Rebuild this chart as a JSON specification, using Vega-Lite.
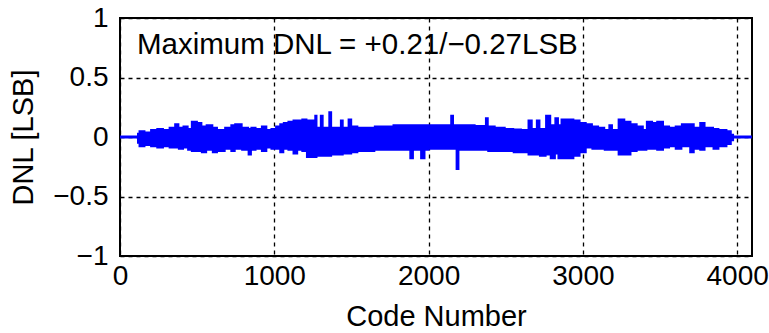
{
  "$schema": "https://vega.github.io/schema/vega-lite/v6.json",
  "autosize": {"type": "none"},
  "width": 632,
  "height": 238,
  "padding": {"left": 120, "top": 18, "right": 17, "bottom": 77},
  "background": "white",
  "title": {"text": "y,", "fontSize": 29, "font": "Liberation Sans", "fontWeight": "bold", "baseline": "bottom", "frame": "group", "offset": -3, "dx": 36, "color": "#000"},
  "config": {
    "view": {"stroke": "#000", "strokeWidth": 2},
    "font": "Liberation Sans",
    "axis": {
      "labelFont": "Liberation Sans", "labelFontSize": 28, "labelColor": "#000",
      "titleFont": "Liberation Sans", "titleFontSize": 29, "titleFontWeight": "normal", "titleColor": "#000",
      "domain": false, "ticks": false,
      "grid": true, "gridColor": "#000", "gridDash": [4, 4], "gridWidth": 1.3, "gridOpacity": 1
    }
  },
  "datasets": {
    "band": [
      {"code": 115, "hi": 0.03, "lo": -0.05},
      {"code": 125, "hi": 0.05, "lo": -0.08},
      {"code": 160, "hi": 0.04, "lo": -0.07},
      {"code": 200, "hi": 0.06, "lo": -0.08},
      {"code": 240, "hi": 0.07, "lo": -0.09},
      {"code": 280, "hi": 0.06, "lo": -0.08},
      {"code": 320, "hi": 0.08, "lo": -0.09},
      {"code": 356, "hi": 0.11, "lo": -0.09},
      {"code": 380, "hi": 0.08, "lo": -0.10},
      {"code": 410, "hi": 0.09, "lo": -0.09},
      {"code": 440, "hi": 0.07, "lo": -0.11},
      {"code": 464, "hi": 0.13, "lo": -0.12},
      {"code": 500, "hi": 0.12, "lo": -0.12},
      {"code": 529, "hi": 0.09, "lo": -0.13},
      {"code": 560, "hi": 0.10, "lo": -0.11},
      {"code": 600, "hi": 0.08, "lo": -0.13},
      {"code": 630, "hi": 0.06, "lo": -0.12},
      {"code": 680, "hi": 0.08, "lo": -0.10},
      {"code": 720, "hi": 0.10, "lo": -0.12},
      {"code": 745, "hi": 0.11, "lo": -0.10},
      {"code": 790, "hi": 0.08, "lo": -0.11},
      {"code": 832, "hi": 0.07, "lo": -0.15},
      {"code": 850, "hi": 0.08, "lo": -0.11},
      {"code": 880, "hi": 0.07, "lo": -0.10},
      {"code": 918, "hi": 0.09, "lo": -0.12},
      {"code": 950, "hi": 0.06, "lo": -0.09},
      {"code": 980, "hi": 0.07, "lo": -0.10},
      {"code": 1010, "hi": 0.09, "lo": -0.10},
      {"code": 1037, "hi": 0.11, "lo": -0.13},
      {"code": 1060, "hi": 0.12, "lo": -0.10},
      {"code": 1090, "hi": 0.13, "lo": -0.11},
      {"code": 1123, "hi": 0.14, "lo": -0.14},
      {"code": 1150, "hi": 0.14, "lo": -0.11},
      {"code": 1180, "hi": 0.15, "lo": -0.12},
      {"code": 1210, "hi": 0.14, "lo": -0.17},
      {"code": 1250, "hi": 0.14, "lo": -0.17},
      {"code": 1264, "hi": 0.18, "lo": -0.17},
      {"code": 1275, "hi": 0.08, "lo": -0.16},
      {"code": 1300, "hi": 0.18, "lo": -0.16},
      {"code": 1315, "hi": 0.08, "lo": -0.16},
      {"code": 1355, "hi": 0.21, "lo": -0.16},
      {"code": 1370, "hi": 0.08, "lo": -0.15},
      {"code": 1430, "hi": 0.14, "lo": -0.15},
      {"code": 1445, "hi": 0.08, "lo": -0.14},
      {"code": 1480, "hi": 0.15, "lo": -0.14},
      {"code": 1500, "hi": 0.09, "lo": -0.13},
      {"code": 1540, "hi": 0.08, "lo": -0.12},
      {"code": 1600, "hi": 0.08, "lo": -0.12},
      {"code": 1650, "hi": 0.09, "lo": -0.11},
      {"code": 1700, "hi": 0.09, "lo": -0.11},
      {"code": 1771, "hi": 0.10, "lo": -0.11},
      {"code": 1840, "hi": 0.10, "lo": -0.11},
      {"code": 1880, "hi": 0.10, "lo": -0.18},
      {"code": 1900, "hi": 0.10, "lo": -0.11},
      {"code": 1950, "hi": 0.10, "lo": -0.18},
      {"code": 1975, "hi": 0.10, "lo": -0.11},
      {"code": 2000, "hi": 0.10, "lo": -0.10},
      {"code": 2050, "hi": 0.10, "lo": -0.10},
      {"code": 2100, "hi": 0.10, "lo": -0.10},
      {"code": 2145, "hi": 0.18, "lo": -0.10},
      {"code": 2160, "hi": 0.10, "lo": -0.10},
      {"code": 2180, "hi": 0.10, "lo": -0.27},
      {"code": 2195, "hi": 0.10, "lo": -0.11},
      {"code": 2250, "hi": 0.10, "lo": -0.11},
      {"code": 2300, "hi": 0.095, "lo": -0.11},
      {"code": 2370, "hi": 0.16, "lo": -0.11},
      {"code": 2385, "hi": 0.09, "lo": -0.12},
      {"code": 2430, "hi": 0.08, "lo": -0.12},
      {"code": 2495, "hi": 0.07, "lo": -0.12},
      {"code": 2550, "hi": 0.065, "lo": -0.13},
      {"code": 2600, "hi": 0.06, "lo": -0.13},
      {"code": 2646, "hi": 0.14, "lo": -0.15},
      {"code": 2670, "hi": 0.07, "lo": -0.15},
      {"code": 2700, "hi": 0.14, "lo": -0.15},
      {"code": 2720, "hi": 0.07, "lo": -0.16},
      {"code": 2760, "hi": 0.18, "lo": -0.15},
      {"code": 2790, "hi": 0.10, "lo": -0.18},
      {"code": 2820, "hi": 0.16, "lo": -0.14},
      {"code": 2840, "hi": 0.10, "lo": -0.18},
      {"code": 2860, "hi": 0.15, "lo": -0.18},
      {"code": 2900, "hi": 0.15, "lo": -0.18},
      {"code": 2940, "hi": 0.14, "lo": -0.16},
      {"code": 2980, "hi": 0.12, "lo": -0.13},
      {"code": 3020, "hi": 0.11, "lo": -0.09},
      {"code": 3060, "hi": 0.09, "lo": -0.10},
      {"code": 3100, "hi": 0.08, "lo": -0.10},
      {"code": 3140, "hi": 0.06, "lo": -0.11},
      {"code": 3170, "hi": 0.10, "lo": -0.11},
      {"code": 3190, "hi": 0.06, "lo": -0.11},
      {"code": 3230, "hi": 0.15, "lo": -0.15},
      {"code": 3270, "hi": 0.13, "lo": -0.15},
      {"code": 3310, "hi": 0.11, "lo": -0.12},
      {"code": 3350, "hi": 0.09, "lo": -0.11},
      {"code": 3390, "hi": 0.06, "lo": -0.11},
      {"code": 3413, "hi": 0.13, "lo": -0.10},
      {"code": 3450, "hi": 0.12, "lo": -0.10},
      {"code": 3480, "hi": 0.13, "lo": -0.11},
      {"code": 3521, "hi": 0.09, "lo": -0.09},
      {"code": 3560, "hi": 0.08, "lo": -0.08},
      {"code": 3600, "hi": 0.09, "lo": -0.10},
      {"code": 3640, "hi": 0.11, "lo": -0.08},
      {"code": 3694, "hi": 0.11, "lo": -0.13},
      {"code": 3720, "hi": 0.08, "lo": -0.10},
      {"code": 3759, "hi": 0.12, "lo": -0.11},
      {"code": 3790, "hi": 0.08, "lo": -0.08},
      {"code": 3845, "hi": 0.07, "lo": -0.10},
      {"code": 3880, "hi": 0.06, "lo": -0.08},
      {"code": 3932, "hi": 0.05, "lo": -0.06},
      {"code": 3960, "hi": 0.02, "lo": -0.03},
      {"code": 3975, "hi": 0.0, "lo": 0.0}
    ],
    "base": [
      {"code": 0, "dnl": 0},
      {"code": 4095, "dnl": 0}
    ],
    "note": [
      {"code": 110, "dnl": 0.77, "label": "Maximum DNL = +0.21/−0.27LSB"}
    ]
  },
  "encoding": {
    "x": {
      "field": "code", "type": "quantitative",
      "scale": {"domain": [0, 4096], "nice": false, "zero": false},
      "axis": {"title": "Code Number", "values": [0, 1000, 2000, 3000, 4000], "format": "d", "labelPadding": 6, "titlePadding": 12, "labelFlush": false}
    }
  },
  "layer": [
    {
      "data": {"name": "base"},
      "mark": {"type": "line", "color": "#0000ff", "strokeWidth": 3, "clip": true},
      "encoding": {
        "y": {
          "field": "dnl", "type": "quantitative",
          "scale": {"domain": [-1, 1], "nice": false},
          "axis": {"title": "DNL [LSB]", "values": [-1, -0.5, 0, 0.5, 1], "format": "~g", "labelPadding": 12, "titlePadding": 14}
        }
      }
    },
    {
      "data": {"name": "band"},
      "mark": {"type": "area", "color": "#0000ff", "interpolate": "step-after", "opacity": 1, "stroke": "#0000ff", "strokeWidth": 1.5, "strokeJoin": "miter"},
      "encoding": {
        "y": {"field": "hi", "type": "quantitative"},
        "y2": {"field": "lo"}
      }
    },
    {
      "data": {"name": "note"},
      "mark": {"type": "text", "align": "left", "baseline": "middle", "fontSize": 29.5, "font": "Liberation Sans", "color": "#000"},
      "encoding": {
        "y": {"field": "dnl", "type": "quantitative"},
        "text": {"field": "label"}
      }
    }
  ]
}
